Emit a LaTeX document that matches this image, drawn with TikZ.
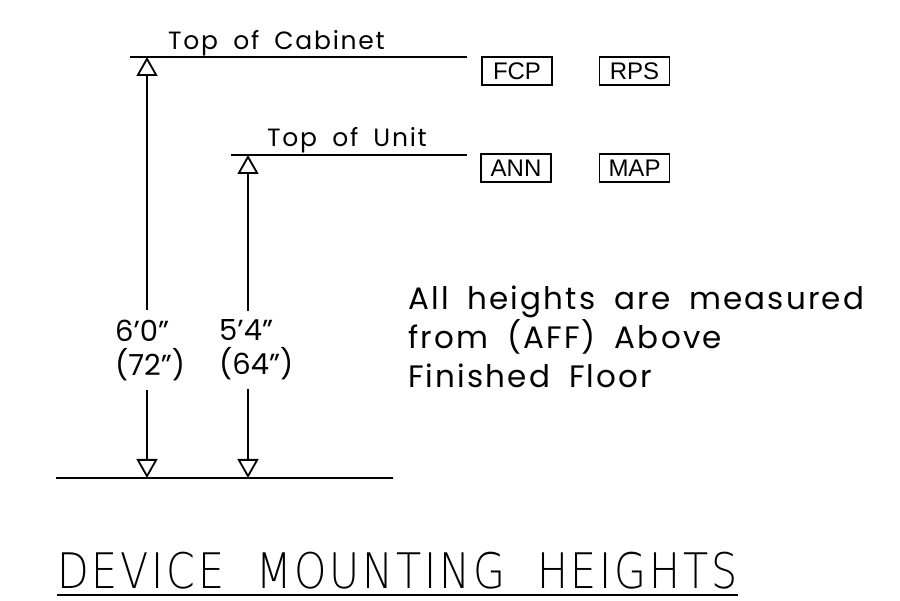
\documentclass[tikz,border=0pt]{standalone}
\usepackage{fontspec}
\setmainfont{Poppins}
\newfontfamily\cadfont[LetterSpace=7,WordSpace=1.8]{Poppins}
\newfontfamily\titlefont[LetterSpace=7,WordSpace=2]{DejaVu Sans ExtraLight}
\newfontfamily\boxfont{Liberation Sans}
\usetikzlibrary{arrows.meta,calc}

\tikzset{
  dimline/.style={line width=2pt,-{Triangle[open,length=19pt,width=21pt,line width=1.8pt]}},
  levelline/.style={line width=2pt},
  devbox/.style={draw,line width=1.5pt,minimum width=70pt,minimum height=28pt,inner sep=0pt,font=\boxfont\fontsize{24}{24}\selectfont},
  cadtext/.style={inner sep=0pt,font=\cadfont\fontsize{25}{25}\selectfont},
  dimtext/.style={inner xsep=0pt,inner ysep=9pt,anchor=west,align=left,font=\fontsize{29}{34}\selectfont},
}

\begin{document}
\begin{tikzpicture}[x=1pt,y=-1pt]
\useasboundingbox (0,0) rectangle (900,601);

% levels
\coordinate (cabL) at (130,57);
\coordinate (cabR) at (467,57);
\coordinate (unitL) at (231,155);
\coordinate (unitR) at (467,155);
\coordinate (floorL) at (56,478);
\coordinate (floorR) at (393,478);
\draw[levelline] (cabL)--(cabR);
\draw[levelline] (unitL)--(unitR);
\draw[levelline] (floorL)--(floorR);

\node[cadtext,anchor=base west] (cabtxt) at (168,50) {Top of Cabinet};
\node[cadtext,anchor=base west] (unittxt) at (267,147) {Top of Unit};

% devices
\node[devbox] (fcp) at (517,71) {FCP};
\node[devbox] (rps) at (634.5,71) {RPS};
\node[devbox] (ann) at (516,168) {ANN};
\node[devbox] (map) at (634.5,168) {MAP};

% dimensions
\coordinate (cabtop) at (147,57);
\coordinate (cabbot) at (147,478);
\coordinate (unittop) at (248,155);
\coordinate (unitbot) at (248,478);
\node[dimtext] (cabdim) at (115,350) {6’0”\\(72”)};
\node[dimtext] (unitdim) at (219,350) {5’4”\\(64”)};
\draw[dimline] (cabdim.north-|cabtop)--(cabtop);
\draw[dimline] (cabdim.south-|cabtop)--(cabbot);
\draw[dimline] (unitdim.north-|unittop)--(unittop);
\draw[dimline] (unitdim.south-|unittop)--(unitbot);

\node[cadtext,anchor=north west,align=left,font=\cadfont\fontsize{31}{39}\selectfont] (note) at (408,286)
  {All heights are measured\\from (AFF) Above\\Finished Floor};

\node[inner sep=0pt,anchor=base west,font=\titlefont\fontsize{49}{49}\selectfont] (title) at (57,588) {\scalebox{0.84}[1]{DEVICE MOUNTING HEIGHTS}};
\draw[line width=1.5pt] ($(title.base west)+(0,7)$)--($(title.base east)+(0,7)$);
\end{tikzpicture}
\end{document}
